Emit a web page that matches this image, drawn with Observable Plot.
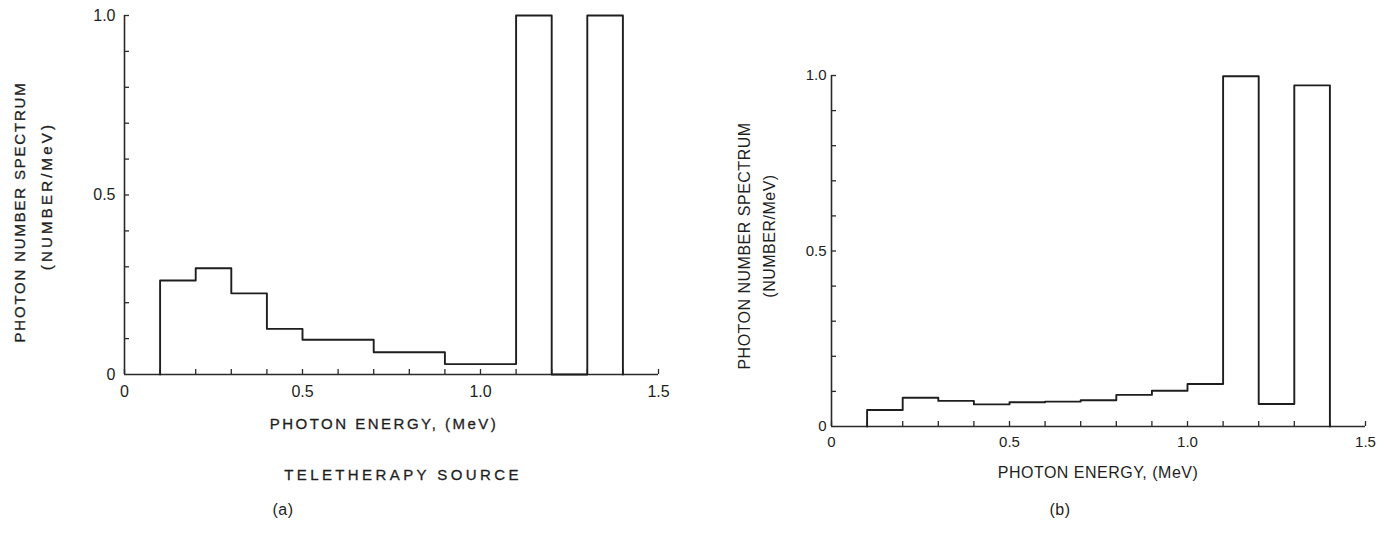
<!DOCTYPE html>
<html>
<head>
<meta charset="utf-8">
<script src="https://cdn.jsdelivr.net/npm/d3@7"></script>
<script src="https://cdn.jsdelivr.net/npm/@observablehq/plot@0.6"></script>
<style>
  html, body { margin: 0; padding: 0; background: #fff; }
  #root { position: relative; width: 1392px; height: 538px; overflow: hidden; background: #fff; }
  .panel { position: absolute; top: 0; }
  .lbl { position: absolute; white-space: nowrap; color: #1e1e1e; transform: translate(-50%, -50%); }
  .a { font-family: "Liberation Sans", Arial, sans-serif; font-size: 15px; letter-spacing: 2.5px; -webkit-text-stroke: 0.3px #1e1e1e; }
  .b { font-family: "Liberation Sans", Arial, sans-serif; font-size: 16px; letter-spacing: 0.5px; }
  .rot { transform: translate(-50%, -50%) rotate(-90deg); }
</style>
</head>
<body>
<div id="root"></div>
<script>
// ---- Data ----
// Panel (a): teletherapy source, bin edges in MeV and heights (number/MeV)
const edgesA  = [0.1, 0.2, 0.3, 0.4, 0.5, 0.7, 0.9, 1.1, 1.2, 1.3, 1.4];
const valuesA = [0.262, 0.296, 0.226, 0.127, 0.097, 0.062, 0.029, 1.0, 0, 1.0];
// Panel (b)
const edgesB  = [0.1, 0.2, 0.3, 0.4, 0.5, 0.6, 0.7, 0.8, 0.9, 1.0, 1.1, 1.2, 1.3, 1.4];
const valuesB = [0.047, 0.082, 0.073, 0.063, 0.069, 0.071, 0.075, 0.090, 0.102, 0.121, 0.998, 0.064, 0.972];
// Axes
const minorTicksX = [0, 0.1, 0.2, 0.3, 0.4, 0.5, 0.6, 0.7, 0.8, 0.9, 1.0, 1.1, 1.2, 1.3, 1.4, 1.5];
const minorTicksY = [0.1, 0.2, 0.3, 0.4, 0.5, 0.6, 0.7, 0.8, 0.9, 1.0];
const xTickLabels = [0, 0.5, 1.0, 1.5];
const yTickLabels = [0, 0.5, 1.0];
const fmt = d => d === 0 ? "0" : d.toFixed(1);

function steps(edges, values) {
  const pts = [{x: edges[0], y: 0}];
  values.forEach((v, i) => pts.push({x: edges[i], y: v}));
  pts.push({x: edges[edges.length - 1], y: 0});
  return pts;
}

function panel({edges, values, width, height, mt, mb, ml, mr, font, fontSize, xLabDy, yLabDx}) {
  const pxX = (width - ml - mr) / 1.5;
  const pxY = (height - mt - mb) / 1.0;
  const tickLen = 5;
  return Plot.plot({
    width, height,
    marginTop: mt, marginBottom: mb, marginLeft: ml, marginRight: mr,
    x: {domain: [0, 1.5], axis: null},
    y: {domain: [0, 1.0], axis: null},
    style: {fontFamily: font, fontSize: fontSize + "px", color: "#222", background: "transparent", overflow: "visible"},
    marks: [
      Plot.ruleY([0], {x1: 0, x2: 1.5, stroke: "#2a2a2a", strokeWidth: 1.6}),
      Plot.ruleX([0], {y1: 0, y2: 1.0, stroke: "#2a2a2a", strokeWidth: 1.6}),
      Plot.ruleX(minorTicksX, {x: d => d, y1: 0, y2: tickLen / pxY, stroke: "#2a2a2a", strokeWidth: 1.3}),
      Plot.ruleY(minorTicksY, {y: d => d, x1: 0, x2: tickLen / pxX, stroke: "#2a2a2a", strokeWidth: 1.3}),
      Plot.line(steps(edges, values), {x: "x", y: "y", curve: "step-after", stroke: "#1e1e1e", strokeWidth: 1.9}),
      Plot.text(xTickLabels, {x: d => d, y: 0, text: fmt, dy: xLabDy, fill: "#222", fontSize}),
      Plot.text(yTickLabels, {x: 0, y: d => d, text: fmt, dx: yLabDx, textAnchor: "end", fill: "#222", fontSize})
    ]
  });
}

const root = document.getElementById("root");

const a = panel({edges: edgesA, values: valuesA, width: 680, height: 400, mt: 15, mb: 26, ml: 124, mr: 22,
                 font: "Liberation Sans", fontSize: 16, xLabDy: 17, yLabDx: -9});
a.classList.add("panel"); a.style.left = "0px";
root.appendChild(a);

const b = panel({edges: edgesB, values: valuesB, width: 692, height: 456, mt: 75, mb: 30, ml: 131, mr: 27,
                 font: "Liberation Sans", fontSize: 15, xLabDy: 16, yLabDx: -5});
b.classList.add("panel"); b.style.left = "700px";
root.appendChild(b);

function label(text, x, y, cls, spacing) {
  const d = document.createElement("div");
  d.className = "lbl " + cls;
  d.textContent = text;
  d.style.left = x + "px";
  d.style.top = y + "px";
  if (spacing != null) d.style.letterSpacing = spacing + "px";
  root.appendChild(d);
}
// Panel (a) texts
label("PHOTON NUMBER SPECTRUM", 19, 212, "a rot", 1.8);
label("(NUMBER/MeV)", 46, 196, "a rot", 3.2);
label("PHOTON ENERGY, (MeV)", 384, 423, "a", 2.5);
label("TELETHERAPY SOURCE", 403, 474, "a", 3.4);
label("(a)", 283, 510, "b");
// Panel (b) texts
label("PHOTON NUMBER SPECTRUM", 745, 246, "b rot");
label("(NUMBER/MeV)", 770, 236, "b rot");
label("PHOTON ENERGY, (MeV)", 1098, 473, "b");
label("(b)", 1060, 510, "b");
</script>
</body>
</html>
